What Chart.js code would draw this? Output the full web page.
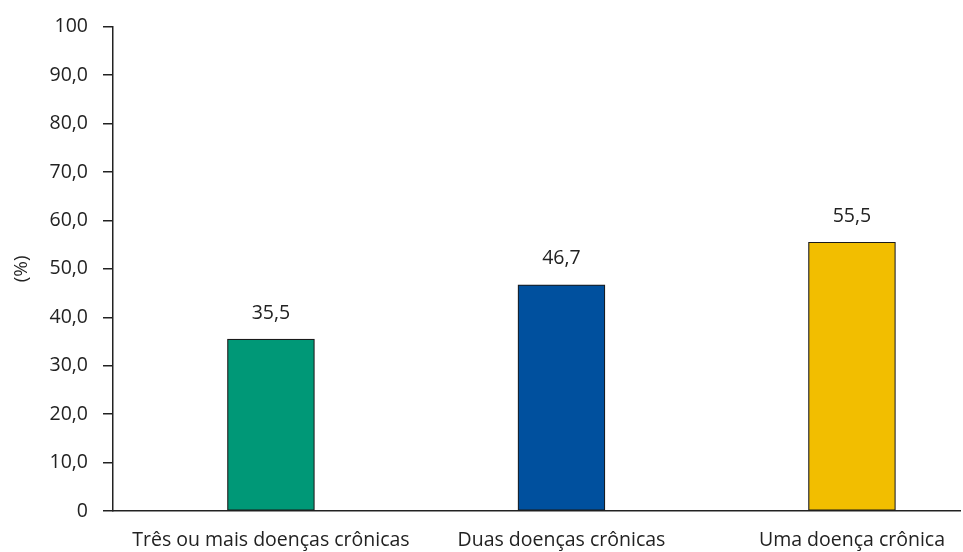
<!DOCTYPE html>
<html>
<head>
<meta charset="utf-8">
<script src="https://cdn.jsdelivr.net/npm/chart.js@4"></script>
<style>
  html, body { margin: 0; padding: 0; background: #fff; overflow: hidden; }
  #wrap { width: 963px; height: 552px; position: relative; }
</style>
</head>
<body>
<div id="wrap"><canvas id="chart"></canvas></div>
<script>
const categories = ["Três ou mais doenças crônicas", "Duas doenças crônicas", "Uma doença crônica"];
const values = [35.5, 46.7, 55.5];
const barColors = ["#009877", "#00509e", "#f2be00"];
const yTicks = [0, 10, 20, 30, 40, 50, 60, 70, 80, 90, 100];

const FONT = "'Open Sans', 'DejaVu Sans', sans-serif";
const fmt = (v) => v.toFixed(1).replace(".", ",");

// rótulos de valor acima das barras
const valueLabels = {
  id: "valueLabels",
  afterDatasetsDraw(chart) {
    const ctx = chart.ctx;
    const meta = chart.getDatasetMeta(0);
    ctx.save();
    ctx.font = `19.5px ${FONT}`;
    ctx.fillStyle = "#222";
    ctx.textAlign = "center";
    ctx.textBaseline = "middle";
    meta.data.forEach((bar, i) => {
      ctx.fillText(fmt(values[i]), bar.x, bar.y - 26);
    });
    ctx.restore();
  },
};

new Chart(document.getElementById("chart"), {
  type: "bar",
  data: {
    datasets: [{
      data: values.map((v, i) => ({ x: i, y: v })),
      backgroundColor: barColors,
      borderColor: "#1a1a1a",
      borderWidth: 1.2,
      borderSkipped: false,
      barThickness: 87,
    }],
  },
  options: {
    responsive: true,
    maintainAspectRatio: false,
    animation: false,
    layout: { padding: { top: 22, right: 0, bottom: 0, left: 0 } },
    plugins: {
      legend: { display: false },
      tooltip: { enabled: false },
    },
    scales: {
      x: {
        type: "linear",
        offset: false,
        min: -0.5437,
        max: 2.372,
        afterBuildTicks(axis) {
          axis.ticks = categories.map((_, i) => ({ value: i }));
        },
        afterFit(axis) { axis.height = 41; },
        grid: { display: false, drawTicks: false, offset: false },
        border: { display: true, color: "#222", width: 1.5 },
        ticks: {
          padding: 18,
          maxRotation: 0,
          autoSkip: false,
          color: "#222",
          font: { family: FONT, size: 19.5 },
          callback: (v) => categories[v] ?? "",
        },
      },
      y: {
        min: 0,
        max: 100,
        afterBuildTicks(axis) {
          axis.ticks = yTicks.map((v) => ({ value: v }));
        },
        afterFit(axis) { axis.width = 113; },
        grid: { drawOnChartArea: false, drawTicks: true, tickLength: 10, color: "#222", lineWidth: 1.5 },
        border: { display: true, color: "#222", width: 1.5 },
        title: {
          display: true,
          text: "(%)",
          color: "#222",
          font: { family: FONT, size: 19 },
          padding: { top: 10, bottom: 0 },
        },
        ticks: {
          padding: 15,
          color: "#222",
          font: { family: FONT, size: 19.5 },
          callback: (v) => (v === 0 || v === 100 ? String(v) : fmt(v)),
        },
      },
    },
  },
  plugins: [valueLabels],
});
</script>
</body>
</html>
